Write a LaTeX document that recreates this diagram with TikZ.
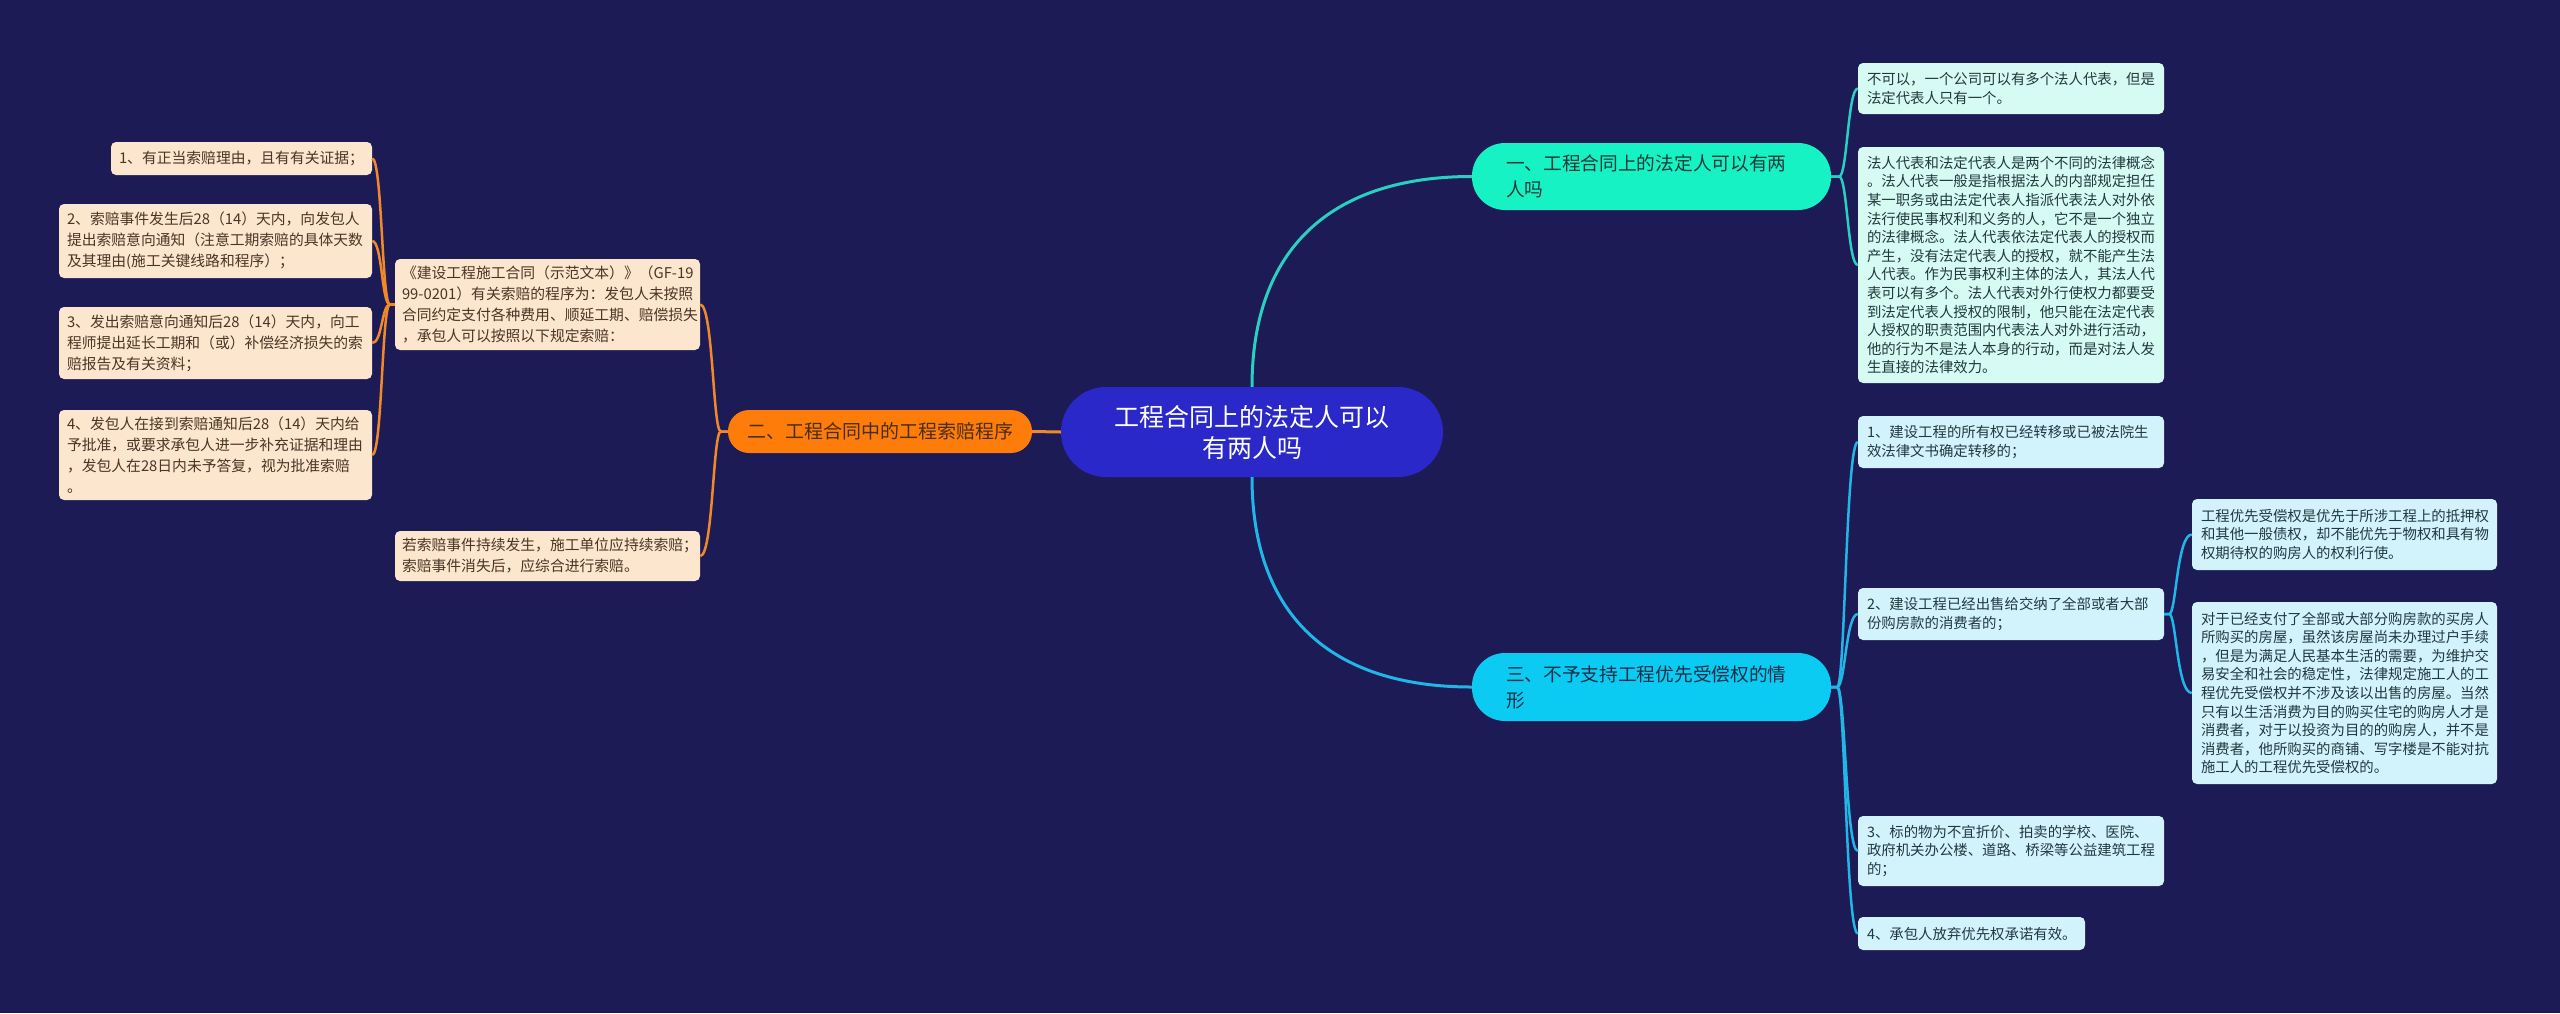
\documentclass[tikz,border=0pt]{standalone}
\usepackage{fontspec}
\setmainfont{Noto Sans CJK SC}
\exhyphenpenalty=10000
\hyphenpenalty=10000
\definecolor{bgc}{HTML}{1C1B56}
\definecolor{rootfill}{HTML}{2A28C8}
\definecolor{onefill}{HTML}{16F2C4}
\definecolor{threefill}{HTML}{0BCBF2}
\definecolor{twofill}{HTML}{FD7C0A}
\definecolor{peach}{HTML}{FDE6CE}
\definecolor{peachtext}{HTML}{4A3526}
\definecolor{mintleaf}{HTML}{D6FBF2}
\definecolor{cyanleaf}{HTML}{D3F3FC}
\definecolor{leaftext}{HTML}{21383E}
\definecolor{tealline}{HTML}{2ACFC2}
\definecolor{cyanline}{HTML}{22B6E6}
\definecolor{orangeline}{HTML}{F0892A}
\definecolor{onetext}{HTML}{1B3A38}
\definecolor{threetext}{HTML}{143049}
\definecolor{twotext}{HTML}{4A2E16}
\tikzset{
  leafl/.style={fill=peach, text=peachtext, rounded corners=5pt, inner xsep=8pt, inner ysep=0pt, align=left, font=\fontsize{14.8}{21}\selectfont},
  leafr/.style={text=leaftext, rounded corners=5pt, inner xsep=9pt, inner ysep=0pt, align=left, font=\fontsize{14.4}{18.6}\selectfont},
  mintbox/.style={leafr, fill=mintleaf},
  cyanbox/.style={leafr, fill=cyanleaf},
  branchbox/.style={rounded corners=33pt, text width=291pt, inner xsep=34pt, inner ysep=0pt, align=left, font=\fontsize{18.7}{26}\selectfont},
  mainline/.style={line width=3pt},
  brline/.style={line width=2.5pt}
}
\begin{document}
\begin{tikzpicture}[x=1pt,y=-1pt]
\fill[bgc] (0,0) rectangle (2560,1013);
\useasboundingbox (0,0) rectangle (2560,1013);

% root and branches
\node[fill=rootfill, text=white, rounded corners=45pt, minimum width=382pt, minimum height=90pt, inner sep=0pt, align=center, font=\fontsize{25}{31}\selectfont] (root) at (1252,432) {工程合同上的法定人可以\\有两人吗};
\node[branchbox, fill=onefill, text=onetext, minimum height=67pt] (b1) at (1651.5,176.5) {一、工程合同上的法定人可以有两\\人吗};
\node[branchbox, fill=threefill, text=threetext, minimum height=68pt] (b3) at (1651.5,687) {三、不予支持工程优先受偿权的情\\形};
\node[fill=twofill, text=twotext, rounded corners=21pt, minimum width=304pt, minimum height=43pt, inner sep=0pt, font=\fontsize{19}{24}\selectfont] (b2) at (880,431.5) {二、工程合同中的工程索赔程序};

% left leaves
\node[leafl, text width=245pt, minimum height=33pt] (l1) at (241.5,158.5) {1、有正当索赔理由，且有有关证据；};
\node[leafl, text width=297pt, minimum height=74pt] (l2) at (215.5,241) {2、索赔事件发生后28（14）天内，向发包人\\提出索赔意向通知（注意工期索赔的具体天数\\及其理由(施工关键线路和程序）；};
\node[leafl, text width=297pt, minimum height=72pt] (l3) at (215.5,343) {3、发出索赔意向通知后28（14）天内，向工\\程师提出延长工期和（或）补偿经济损失的索\\赔报告及有关资料；};
\node[leafl, text width=297pt, minimum height=90pt] (l4) at (215.5,455) {4、发包人在接到索赔通知后28（14）天内给\\予批准，或要求承包人进一步补充证据和理由\\，发包人在28日内未予答复，视为批准索赔\\。};
\node[leafl, text width=291pt, inner xsep=7pt, minimum height=91pt] (m1) at (547.5,304.5) {《建设工程施工合同（示范文本）》（GF-19\\99-0201）有关索赔的程序为：发包人未按照\\合同约定支付各种费用、顺延工期、赔偿损失\\，承包人可以按照以下规定索赔：};
\node[leafl, text width=291pt, inner xsep=7pt, minimum height=50pt] (m2) at (547.5,556) {若索赔事件持续发生，施工单位应持续索赔；\\索赔事件消失后，应综合进行索赔。};

% right leaves
\node[mintbox, text width=288pt, minimum height=51pt] (r1) at (2011,88.5) {不可以，一个公司可以有多个法人代表，但是\\法定代表人只有一个。};
\node[mintbox, text width=288pt, minimum height=236pt] (r2) at (2011,265) {法人代表和法定代表人是两个不同的法律概念\\。法人代表一般是指根据法人的内部规定担任\\某一职务或由法定代表人指派代表法人对外依\\法行使民事权利和义务的人，它不是一个独立\\的法律概念。法人代表依法定代表人的授权而\\产生，没有法定代表人的授权，就不能产生法\\人代表。作为民事权利主体的法人，其法人代\\表可以有多个。法人代表对外行使权力都要受\\到法定代表人授权的限制，他只能在法定代表\\人授权的职责范围内代表法人对外进行活动，\\他的行为不是法人本身的行动，而是对法人发\\生直接的法律效力。};
\node[cyanbox, text width=288pt, minimum height=52pt] (r3) at (2011,442) {1、建设工程的所有权已经转移或已被法院生\\效法律文书确定转移的；};
\node[cyanbox, text width=288pt, minimum height=52pt] (r4) at (2011,614) {2、建设工程已经出售给交纳了全部或者大部\\份购房款的消费者的；};
\node[cyanbox, text width=287pt, minimum height=71pt] (r4a) at (2344.5,534.5) {工程优先受偿权是优先于所涉工程上的抵押权\\和其他一般债权，却不能优先于物权和具有物\\权期待权的购房人的权利行使。};
\node[cyanbox, text width=287pt, minimum height=182pt] (r4b) at (2344.5,693) {对于已经支付了全部或大部分购房款的买房人\\所购买的房屋，虽然该房屋尚未办理过户手续\\，但是为满足人民基本生活的需要，为维护交\\易安全和社会的稳定性，法律规定施工人的工\\程优先受偿权并不涉及该以出售的房屋。当然\\只有以生活消费为目的购买住宅的购房人才是\\消费者，对于以投资为目的的购房人，并不是\\消费者，他所购买的商铺、写字楼是不能对抗\\施工人的工程优先受偿权的。};
\node[cyanbox, text width=288pt, minimum height=70pt] (r5) at (2011,851) {3、标的物为不宜折价、拍卖的学校、医院、\\政府机关办公楼、道路、桥梁等公益建筑工程\\的；};
\node[cyanbox, text width=209pt, minimum height=33pt] (r6) at (1971.5,933.5) {4、承包人放弃优先权承诺有效。};

% connectors
\draw[mainline, draw=tealline] (root.north) .. controls +(0,-137) and +(-142,0) .. (b1.west);
\draw[mainline, draw=cyanline] (root.south) .. controls +(0,137) and +(-142,0) .. (b3.west);
\draw[mainline, draw=orangeline] (root.west) -- (b2.east);

\foreach \c in {m1,m2}
  \draw[brline, draw=orangeline] (b2.west) -- ++(-7,0) .. controls +(-8,0) and +(13,0) .. (\c.east);
\foreach \c in {l1,l2,l3,l4}
  \draw[brline, draw=orangeline] (m1.west) -- ++(-5,0) .. controls +(-8,0) and +(10,0) .. (\c.east);
\foreach \c in {r1,r2}
  \draw[brline, draw=tealline] (b1.east) -- ++(8,0) .. controls +(8,0) and +(-10,0) .. (\c.west);
\foreach \c in {r3,r4,r5,r6}
  \draw[brline, draw=cyanline] (b3.east) -- ++(6,0) .. controls +(8,0) and +(-12,0) .. (\c.west);
\foreach \c in {r4a,r4b}
  \draw[brline, draw=cyanline] (r4.east) -- ++(5,0) .. controls +(7,0) and +(-15,0) .. (\c.west);
\end{tikzpicture}
\end{document}
